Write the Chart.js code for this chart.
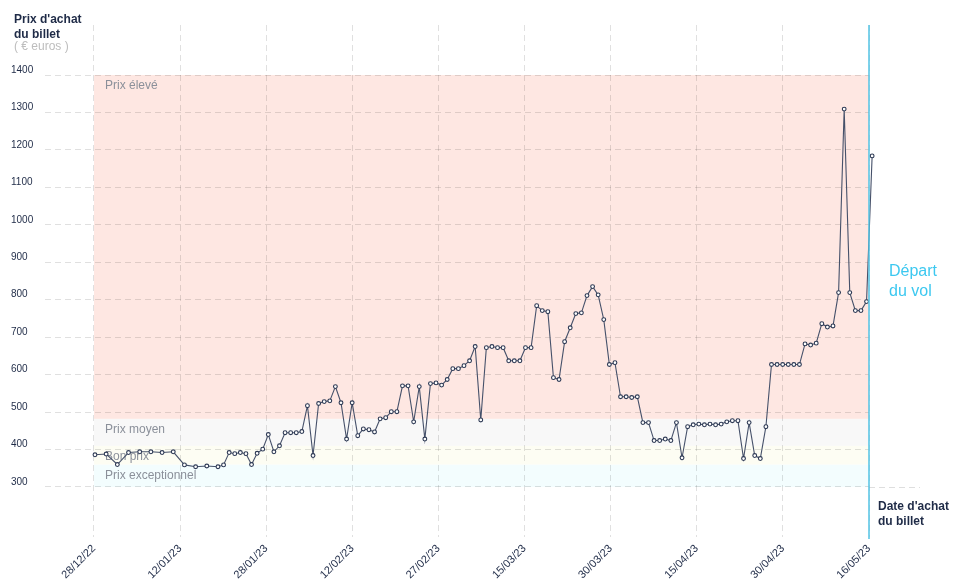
<!DOCTYPE html>
<html lang="fr">
  <head>
    <meta charset="UTF-8" />
    <title>Prix d'achat du billet</title>
    <script src="https://cdn.jsdelivr.net/npm/chart.js@4.4.0/dist/chart.umd.min.js"></script>
    <style>
      html, body { margin: 0; padding: 0; background: #fff; }
      #wrap { width: 958px; height: 585px; }
    </style>
  </head>
  <body>
    <div id="wrap"><canvas id="chart" width="958" height="585"></canvas></div>
    <script>
      // jours écoulés depuis le 28/12/22 et prix relevé ce jour-là
      const purchaseDays = [
        0, 2, 4, 6, 8, 10, 12, 14, 16, 18, 20, 22, 23, 24, 25, 26, 27, 28, 29, 30,
        31, 32, 33, 34, 35, 36, 37, 38, 39, 40, 41, 42, 43, 44, 45, 46, 47, 48, 49, 50,
        51, 52, 53, 54, 55, 56, 57, 58, 59, 60, 61, 62, 63, 64, 65, 66, 67, 68, 69, 70,
        71, 72, 73, 74, 75, 76, 77, 78, 79, 80, 81, 82, 83, 84, 85, 86, 87, 88, 89, 90,
        91, 92, 93, 94, 95, 96, 97, 98, 99, 100, 101, 102, 103, 104, 105, 106, 107, 108, 109, 110,
        111, 112, 113, 114, 115, 116, 117, 118, 119, 120, 121, 122, 123, 124, 125, 126, 127, 128, 129, 130,
        131, 132, 133, 134, 135, 136, 137, 138, 139
      ];
      const prices = [
        386, 388, 360, 392, 394, 394, 392, 394, 359, 354, 356, 354, 359, 392, 389, 392, 389, 360, 390, 401,
        440, 394, 410, 445, 445, 445, 448, 517, 384, 523, 528, 530, 568, 525, 428, 525, 437, 455, 453, 447,
        482, 485, 501, 501, 570, 570, 474, 568, 428, 576, 578, 572, 587, 616, 616, 624, 637, 675, 479, 672,
        675, 672, 672, 637, 637, 637, 672, 672, 784, 771, 768, 592, 587, 688, 725, 763, 765, 811, 835, 813,
        747, 627, 632, 541, 541, 539, 541, 472, 472, 424, 424, 428, 424, 472, 378, 461, 466, 468, 466, 468,
        466, 468, 474, 477, 477, 376, 472, 384, 376, 461, 627, 627, 627, 627, 627, 627, 682, 679, 684, 736,
        727, 730, 819, 1309, 819, 771, 771, 795, 1184
      ];

      const xTickLabels = ['28/12/22', '12/01/23', '28/01/23', '12/02/23', '27/02/23',
        '15/03/23', '30/03/23', '15/04/23', '30/04/23', '16/05/23'];
      const yTicks = [300, 400, 500, 600, 700, 800, 900, 1000, 1100, 1200, 1300, 1400];

      // tranches de prix (bornes basses / hautes)
      const bandNames = ['Prix exceptionnel', 'Bon prix', 'Prix moyen', 'Prix élevé'];
      const bandEdges = [300, 360, 410, 482, 1400];

      const firstTickDay = -0.18;
      const departureDay = 138.44;

      const bandColors = ['#f3fdfe', '#fdfdf3', '#f8f8f8', '#fee7e2'];
      const navy = '#1f2b47';
      const FONT = '"Liberation Sans", Arial, sans-serif';

      const xTickPos = xTickLabels.map((_, i) =>
        firstTickDay + i * (departureDay - firstTickDay) / (xTickLabels.length - 1));

      const decor = {
        id: 'decor',
        beforeDraw(chart) {
          const { ctx, scales: { x, y } } = chart;
          const x0 = x.getPixelForValue(firstTickDay);
          const x1 = x.getPixelForValue(departureDay);
          ctx.save();
          bandNames.forEach((name, i) => {
            const top = y.getPixelForValue(bandEdges[i + 1]);
            const bot = y.getPixelForValue(bandEdges[i]);
            ctx.fillStyle = bandColors[i];
            ctx.fillRect(x0, top, x1 - x0, bot - top);
          });
          ctx.restore();
        },
        beforeDatasetsDraw(chart) {
          const { ctx, scales: { x, y } } = chart;
          const x0 = x.getPixelForValue(firstTickDay);
          ctx.save();
          ctx.font = '12px ' + FONT;
          ctx.fillStyle = '#8b909a';
          ctx.textBaseline = 'middle';
          bandNames.forEach((name, i) => {
            ctx.fillText(name, x0 + 11, y.getPixelForValue(bandEdges[i + 1]) + 11);
          });
          ctx.restore();
        },
        afterDraw(chart) {
          const { ctx, chartArea, scales: { x, y } } = chart;
          const xd = x.getPixelForValue(departureDay);
          ctx.save();
          // prolongement de la ligne des 300
          ctx.strokeStyle = 'rgba(0,0,0,0.13)';
          ctx.lineWidth = 1;
          ctx.setLineDash([6, 4]);
          const y300 = Math.round(y.getPixelForValue(300)) + 0.5;
          ctx.beginPath();
          ctx.moveTo(xd, y300);
          ctx.lineTo(920, y300);
          ctx.stroke();
          ctx.setLineDash([]);

          // départ du vol
          ctx.strokeStyle = '#52c3e4';
          ctx.lineWidth = 1.5;
          ctx.beginPath();
          ctx.moveTo(xd, chartArea.top);
          ctx.lineTo(xd, chartArea.bottom + 2);
          ctx.stroke();

          ctx.fillStyle = '#3cc8f0';
          ctx.font = '16px ' + FONT;
          ctx.fillText('Départ', 889, 276);
          ctx.fillText('du vol', 889, 296);

          ctx.fillStyle = navy;
          ctx.font = 'bold 12px ' + FONT;
          ctx.fillText("Date d'achat", 878, 510);
          ctx.fillText('du billet', 878, 525);

          ctx.fillText("Prix d'achat", 14, 23);
          ctx.fillText('du billet', 14, 38);
          ctx.fillStyle = '#bdbdbd';
          ctx.font = '12px ' + FONT;
          ctx.fillText('( € euros )', 14, 50);
          ctx.restore();
        }
      };

      const ctx = document.getElementById('chart').getContext('2d');
      const chart = new Chart(ctx, {
        type: 'line',
        data: {
          datasets: [{
            data: purchaseDays.map((d, i) => ({ x: d, y: prices[i] })),
            borderColor: '#46516a',
            borderWidth: 1.1,
            pointRadius: 1.9,
            pointBorderWidth: 1.1,
            pointBorderColor: '#2c3853',
            pointBackgroundColor: '#fff',
            tension: 0,
            clip: false
          }]
        },
        options: {
          responsive: false,
          animation: false,
          layout: { padding: { left: 11, right: 89, top: 25, bottom: 0 } },
          plugins: { legend: { display: false }, tooltip: { enabled: false } },
          scales: {
            x: {
              type: 'linear',
              min: -8.94,
              max: departureDay,
              afterBuildTicks: s => { s.ticks = xTickPos.map(v => ({ value: v })); },
              afterFit: s => { s.height = 48; },
              grid: { color: 'rgba(0,0,0,0.12)', drawTicks: false },
              border: { display: false, dash: [6, 4] },
              ticks: {
                autoSkip: false,
                minRotation: 45,
                maxRotation: 45,
                padding: 5,
                color: navy,
                font: { family: FONT, size: 11 },
                callback: (v, i) => xTickLabels[i]
              }
            },
            y: {
              min: 166.5,
              max: 1533.5,
              afterBuildTicks: s => { s.ticks = yTicks.map(v => ({ value: v })); },
              afterFit: s => { s.width = 34; },
              grid: { color: 'rgba(0,0,0,0.12)', drawTicks: false },
              border: { display: false, dash: [6, 4] },
              ticks: {
                crossAlign: 'far',
                labelOffset: -5,
                color: navy,
                font: { family: FONT, size: 10 },
                callback: v => String(v)
              }
            }
          }
        },
        plugins: [decor]
      });
    </script>
  </body>
</html>
